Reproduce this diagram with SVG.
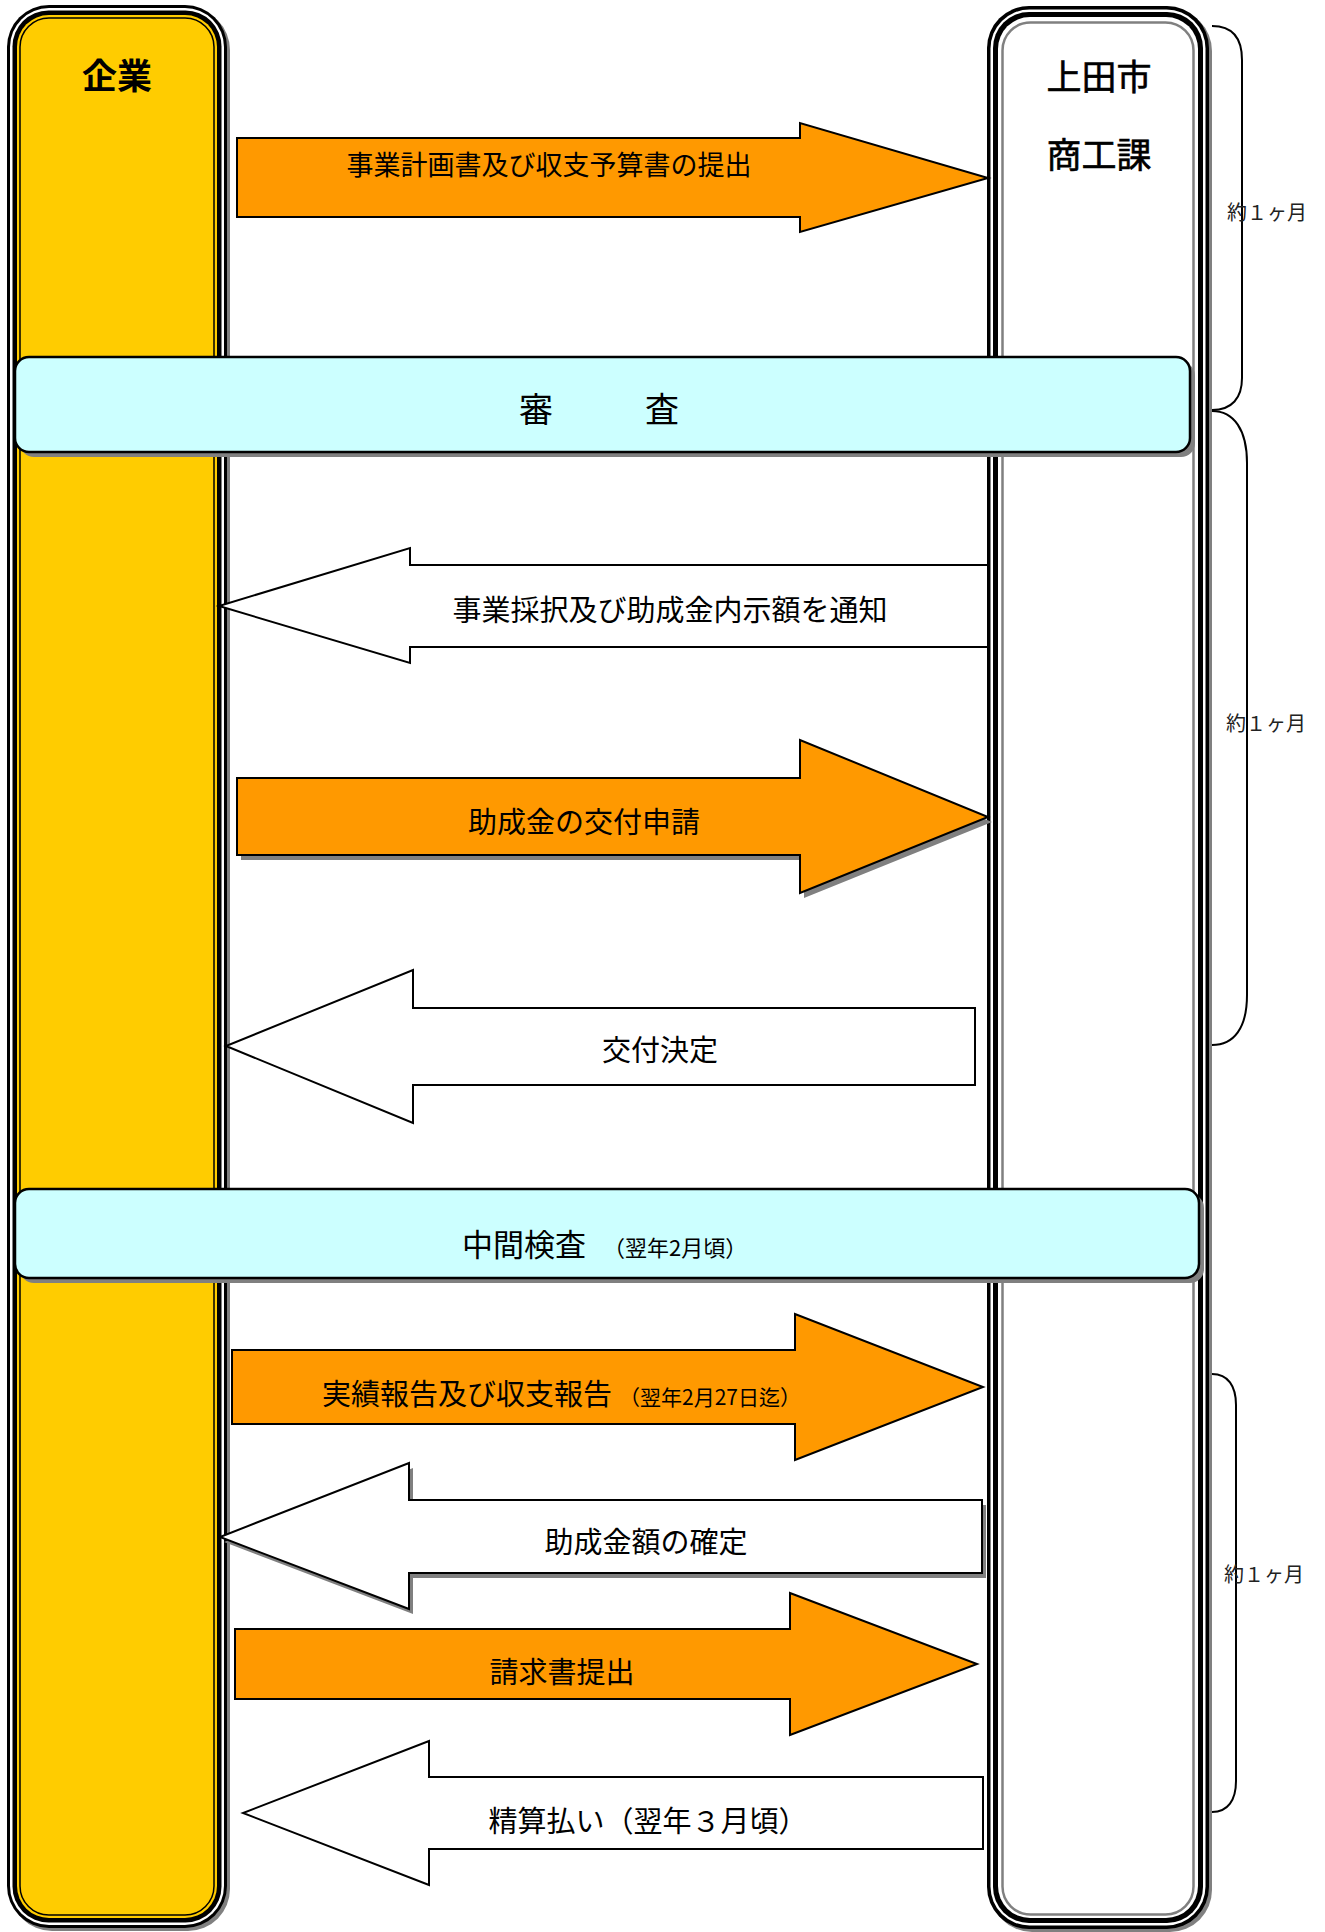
<svg xmlns="http://www.w3.org/2000/svg" width="1325" height="1932" viewBox="0 0 1325 1932">
<style>
.lbl{font-family:"Noto Sans CJK JP","Noto Sans",sans-serif;fill:#000;text-anchor:middle}
.lbs{font-family:"Noto Sans CJK JP","Noto Sans",sans-serif;fill:#000;text-anchor:start}
.arrowO{fill:#FF9900;stroke:#000;stroke-width:2;stroke-linejoin:miter}
.arrowW{fill:#fff;stroke:#000;stroke-width:2;stroke-linejoin:miter}
.shadow{fill:#808080}
.box{fill:#CCFFFF;stroke:#000;stroke-width:2.5}
.brace{fill:none;stroke:#000;stroke-width:2}
.dur{font-family:"Liberation Serif","Noto Sans CJK JP",serif;font-size:20px;fill:#222}
</style>
<rect width="1325" height="1932" fill="#fff"/>

<g id="lane-kigyo">
  <rect x="10" y="8" width="220" height="1923" rx="42" class="shadow"/>
  <rect x="7" y="5" width="220" height="1923" rx="42" fill="#000"/>
  <rect x="10" y="8" width="214" height="1917" rx="39" fill="#fff"/>
  <rect x="12.5" y="10.5" width="209" height="1912" rx="36" fill="#000"/>
  <rect x="17" y="15" width="200" height="1903" rx="32" fill="#FFCC00"/>
  <rect x="20" y="18" width="194" height="1897" rx="29" fill="none" stroke="#000" stroke-width="1.5"/>
  <text class="lbl" x="117" y="89" font-size="35" font-weight="bold">企業</text>
</g>

<g id="lane-shoko">
  <rect x="990" y="9" width="222" height="1923" rx="42" class="shadow"/>
  <rect x="987" y="6" width="222" height="1923" rx="42" fill="#000"/>
  <rect x="990.5" y="9.5" width="215" height="1916" rx="39" fill="#fff"/>
  <rect x="993" y="12" width="210" height="1911" rx="36" fill="#000"/>
  <rect x="998" y="17" width="200" height="1901" rx="32" fill="#fff"/>
  <rect x="1002.5" y="22.5" width="191" height="1892" rx="28" fill="none" stroke="#808080" stroke-width="2.5"/>
  <text class="lbl" x="1099" y="90" font-size="35" stroke="#000" stroke-width="0.6">上田市</text>
  <text class="lbl" x="1099" y="168" font-size="35" stroke="#000" stroke-width="0.6">商工課</text>
</g>

<g id="connectors">
  <g id="arrow-1">
    <path class="arrowO" d="M237,138 H800 V123 L988,178 L800,232 V217 H237 Z"/>
    <text class="lbl" x="549" y="175" font-size="27">事業計画書及び収支予算書の提出</text>
  </g>
  <g id="arrow-2">
    <path class="arrowW" d="M988,565 H410 V548 L219,606 L410,663 V647 H988 Z"/>
    <text class="lbl" x="670" y="621" font-size="29">事業採択及び助成金内示額を通知</text>
  </g>
  <g id="arrow-3">
    <path class="shadow" d="M241,783 H804 V745 L992,822 L804,898 V860 H241 Z"/>
    <path class="arrowO" d="M237,778 H800 V740 L988,817 L800,893 V855 H237 Z"/>
    <text class="lbl" x="584" y="833" font-size="29">助成金の交付申請</text>
  </g>
  <g id="arrow-4">
    <path class="arrowW" d="M975,1008 H413 V970 L226,1046 L413,1123 V1085 H975 Z"/>
    <text class="lbl" x="660" y="1061" font-size="29">交付決定</text>
  </g>
  <g id="arrow-5">
    <path class="arrowO" d="M232,1350 H795 V1314 L983,1387 L795,1460 V1424 H232 Z"/>
    <text class="lbs" x="322" y="1405" font-size="29">実績報告及び収支報告</text>
    <text class="lbs" x="619" y="1405" font-size="21">（翌年2月27日迄）</text>
  </g>
  <g id="arrow-6">
    <path class="shadow" d="M986,1505 H413 V1468 L224,1542 L413,1614 V1578 H986 Z"/>
    <path class="arrowW" d="M982,1500 H409 V1463 L220,1537 L409,1609 V1573 H982 Z"/>
    <text class="lbl" x="646" y="1553" font-size="29">助成金額の確定</text>
  </g>
  <g id="arrow-7">
    <path class="arrowO" d="M235,1629 H790 V1593 L977,1664 L790,1735 V1699 H235 Z"/>
    <text class="lbl" x="562" y="1683" font-size="29">請求書提出</text>
  </g>
  <g id="arrow-8">
    <path class="arrowW" d="M983,1777 H429 V1741 L243,1813 L429,1885 V1849 H983 Z"/>
    <text class="lbl" x="648" y="1832" font-size="29">精算払い（翌年３月頃）</text>
  </g>
</g>

<g id="box-shinsa">
  <rect x="20" y="362" width="1175" height="95" rx="14" class="shadow"/>
  <rect x="15" y="357" width="1175" height="95" rx="14" class="box"/>
  <text class="lbl" x="603" y="422" font-size="34" letter-spacing="8">審　　査</text>
</g>

<g id="box-chukan">
  <rect x="20" y="1194" width="1184" height="89" rx="14" class="shadow"/>
  <rect x="15" y="1189" width="1184" height="89" rx="14" class="box"/>
  <text class="lbs" x="462" y="1256" font-size="31">中間検査</text>
  <text class="lbs" x="603" y="1256" font-size="22">（翌年2月頃）</text>
</g>

<g id="brace-1">
  <path class="brace" d="M1212,26 C1232,26 1242,38 1242,60 L1242,378 C1242,398 1232,410 1212,410"/>
  <text class="dur" x="1227" y="220">約１ヶ月</text>
</g>
<g id="brace-2">
  <path class="brace" d="M1212,411 C1234,411 1247,430 1247,463 L1247,995 C1247,1028 1234,1045 1212,1045"/>
  <text class="dur" x="1226" y="731">約１ヶ月</text>
</g>
<g id="brace-3">
  <path class="brace" d="M1212,1374 C1228,1374 1236,1386 1236,1405 L1236,1781 C1236,1800 1228,1812 1212,1812"/>
  <text class="dur" x="1224" y="1582">約１ヶ月</text>
</g>
</svg>
